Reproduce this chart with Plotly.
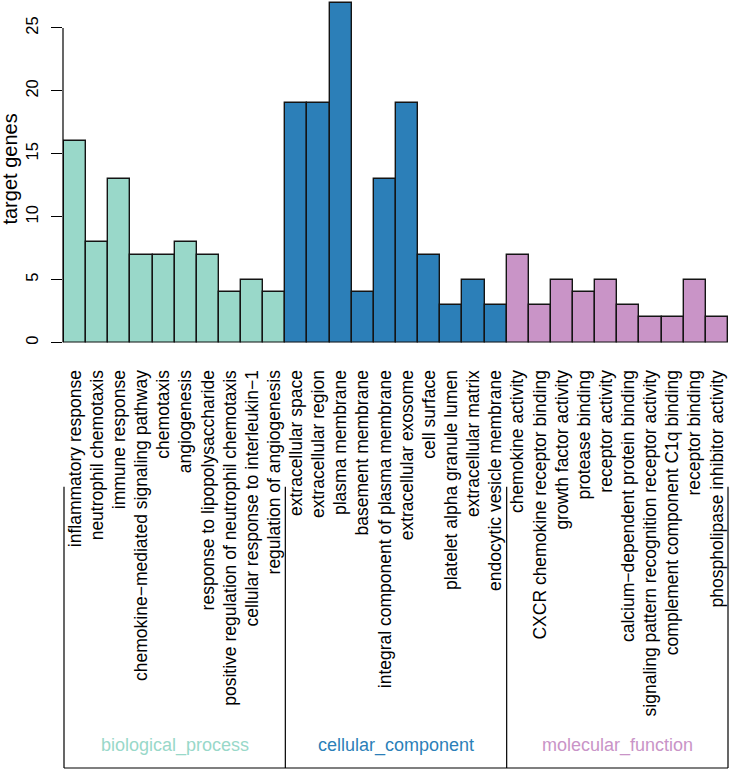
import plotly.graph_objects as go

bp_terms = ["inflammatory response", "neutrophil chemotaxis", "immune response",
            "chemokine\u2212mediated signaling pathway", "chemotaxis", "angiogenesis",
            "response to lipopolysaccharide", "positive regulation of neutrophil chemotaxis",
            "cellular response to interleukin\u22121", "regulation of angiogenesis"]
bp_counts = [16, 8, 13, 7, 7, 8, 7, 4, 5, 4]

cc_terms = ["extracellular space", "extracellular region", "plasma membrane",
            "basement membrane", "integral component of plasma membrane",
            "extracellular exosome", "cell surface", "platelet alpha granule lumen",
            "extracellular matrix", "endocytic vesicle membrane"]
cc_counts = [19, 19, 27, 4, 13, 19, 7, 3, 5, 3]

mf_terms = ["chemokine activity", "CXCR chemokine receptor binding", "growth factor activity",
            "protease binding", "receptor activity", "calcium\u2212dependent protein binding",
            "signaling pattern recognition receptor activity", "complement component C1q binding",
            "receptor binding", "phospholipase inhibitor activity"]
mf_counts = [7, 3, 5, 4, 5, 3, 2, 2, 5, 2]

groups = ["biological_process", "cellular_component", "molecular_function"]
group_colors = ["#99D8C9", "#2C7FB8", "#C994C7"]
y_ticks = [0, 5, 10, 15, 20, 25]

terms = bp_terms + cc_terms + mf_terms
counts = bp_counts + cc_counts + mf_counts
sizes = [len(bp_terms), len(cc_terms), len(mf_terms)]
colors = []
for c, n in zip(group_colors, sizes):
    colors += [c] * n
xs = list(range(len(terms)))

W, H = 731, 774
FONT = "Liberation Sans, Arial, Helvetica, sans-serif"

fig = go.Figure(go.Bar(
    x=xs, y=counts, width=1,
    marker=dict(color=colors, line=dict(color="#141414", width=1.4)),
    showlegend=False, hoverinfo="x+y",
))

# pixel geometry
x0_px, x1_px = 63, 731
bar_left_px, bar_right_px = 64, 728
unit = (bar_right_px - bar_left_px) / len(terms)
y0_px, y25_px = 343.5, 28
yunit = (y0_px - y25_px) / 25

fig.update_layout(
    width=W, height=H,
    margin=dict(l=0, r=0, t=0, b=0),
    paper_bgcolor="white", plot_bgcolor="white",
    font=dict(family=FONT, color="black"),
    bargap=0,
    xaxis=dict(
        domain=[x0_px / W, 1],
        range=[-0.5 - (bar_left_px - x0_px) / unit, len(terms) - 0.5 + (x1_px - bar_right_px) / unit],
        tickmode="array", tickvals=xs, ticktext=terms,
        tickangle=-90, ticks="", showline=False, showgrid=False, zeroline=False,
        tickfont=dict(size=17.5, family=FONT, color="black"),
        ticklabelstandoff=23,
    ),
    yaxis=dict(
        domain=[1 - y0_px / H, 1],
        range=[0, y0_px / yunit],
        tickmode="array", tickvals=y_ticks, ticktext=[str(v) for v in y_ticks],
        tickangle=-90, ticks="outside", ticklen=11, tickwidth=1.2, tickcolor="black",
        showline=False, showgrid=False, zeroline=False,
        tickfont=dict(size=16.5, family=FONT, color="black"),
        ticklabelstandoff=6,
    ),
)

shapes = []
# y axis line spanning tick range
shapes.append(dict(type="line", xref="x domain", yref="y", x0=0, x1=0,
                   y0=y_ticks[0], y1=y_ticks[-1], line=dict(color="black", width=1.2)))
# group brackets
bracket_top = 1 - 488 / H
bracket_bot = 1 - 770 / H
bounds = [-0.5]
for n in sizes:
    bounds.append(bounds[-1] + n)
for b in bounds:
    shapes.append(dict(type="line", xref="x", yref="paper", x0=b, x1=b,
                       y0=bracket_top, y1=bracket_bot, line=dict(color="black", width=1.2)))
shapes.append(dict(type="line", xref="x", yref="paper", x0=bounds[0], x1=bounds[-1],
                   y0=bracket_bot, y1=bracket_bot, line=dict(color="black", width=1.2)))
fig.update_layout(shapes=shapes)

annotations = []
for i, (g, c) in enumerate(zip(groups, group_colors)):
    annotations.append(dict(
        text=g, xref="x", yref="paper", x=(bounds[i] + bounds[i + 1]) / 2, y=1 - 747 / H,
        showarrow=False, xanchor="center", yanchor="middle",
        font=dict(size=18, color=c, family=FONT)))
annotations.append(dict(
    text="target genes", xref="paper", yref="paper", x=10 / W, y=1 - 170 / H,
    showarrow=False, textangle=-90, xanchor="center", yanchor="middle",
    font=dict(size=20, color="black", family=FONT)))
fig.update_layout(annotations=annotations)

fig.write_html("out.html",
               config={"displayModeBar": False},
               post_script="document.body.style.margin='0';document.body.style.overflow='hidden';")
